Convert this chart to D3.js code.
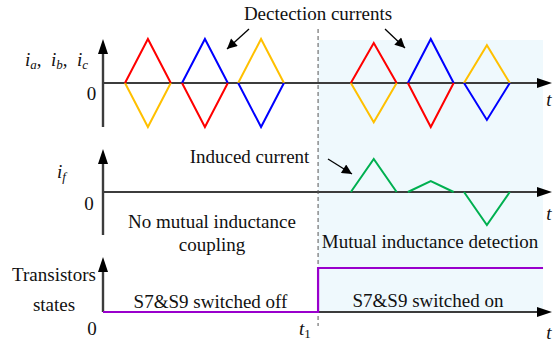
<!DOCTYPE html>
<html><head><meta charset="utf-8">
<script src="https://cdn.jsdelivr.net/npm/d3@7"></script>
<style>
html,body{margin:0;padding:0;background:#fff;}
svg text{font-family:"Liberation Serif","Times New Roman",serif;fill:#111;}
</style></head>
<body><svg id="c" width="553" height="343"></svg>
<script>
// ---- data ----
const pulseStart = [0.49, 1.76, 3.01, 5.52, 6.79, 8.04];
const pulseWidth = 1.02;
const ia = [1.0, -1.0, 0, 0.91, -1.0, 0];      // red
const ib = [0, 1.0, -1.0, 0, 1.0, -0.84];      // blue
const ic = [-1.0, 0, 1.0, -0.89, 0, 0.86];     // yellow
const iF = [0, 0, 0, 0.75, 0.25, -0.75];       // green
const t1 = 4.79;
const tEnd = 10;
const shadeEnd = 9.8;
const stateTimes = [0, t1, t1, shadeEnd];
const stateValues = [0, 0, 1, 1];

const svg = d3.select("#c");
const x = d3.scaleLinear().domain([0, tEnd]).range([103, 552]);
const yTop = d3.scaleLinear().domain([-1, 1]).range([127, 39]);
const yMid = d3.scaleLinear().domain([-1, 1]).range([236, 148]);
const yBot = d3.scaleLinear().domain([0, 1]).range([312, 268]);

const axisCol = "#3c3c3c";
const defs = svg.append("defs");
defs.append("marker").attr("id","ah").attr("viewBox","0 0 10 10")
  .attr("refX",10).attr("refY",5).attr("markerWidth",13).attr("markerHeight",10)
  .attr("markerUnits","userSpaceOnUse").attr("orient","auto")
  .append("path").attr("d","M0,0 L10,5 L0,10 Z").attr("fill","#000");

// shaded region
svg.append("rect").attr("x", x(t1)).attr("y", yTop(1.0)+1)
  .attr("width", x(shadeEnd)-x(t1)).attr("height", yBot(0)-yTop(1.0)-1)
  .attr("fill","#eff9fd");

// axes with arrows
function axes(y0, yBottom, yTip){
  svg.append("line").attr("x1",x(0)).attr("x2",x(tEnd)-12).attr("y1",y0).attr("y2",y0)
    .attr("stroke",axisCol).attr("stroke-width",2);
  svg.append("path").attr("d",`M${x(tEnd)},${y0} L${x(tEnd)-15},${y0-5} L${x(tEnd)-15},${y0+5} Z`).attr("fill","#000");
  svg.append("line").attr("x1",x(0)).attr("x2",x(0)).attr("y1",yBottom).attr("y2",yTip+12)
    .attr("stroke",axisCol).attr("stroke-width",2.4);
  svg.append("path").attr("d",`M${x(0)},${yTip} L${x(0)-5},${yTip+15} L${x(0)+5},${yTip+15} Z`).attr("fill","#000");
}
axes(yTop(0), 127, 39);
axes(yMid(0), 235, 149);
axes(yBot(0), 312, 257);

// dashed t1 line
svg.append("line").attr("x1",x(t1)).attr("x2",x(t1)).attr("y1",29).attr("y2",326)
  .attr("stroke","#555").attr("stroke-width",1).attr("stroke-dasharray","4,3");

// pulses
function pulses(vals, yScale, color){
  vals.forEach((v,i)=>{
    if (v === 0) return;
    const s = pulseStart[i];
    const pts = [[s,0],[s+pulseWidth/2,v],[s+pulseWidth,0]];
    svg.append("path").attr("d", d3.line().x(d=>x(d[0])).y(d=>yScale(d[1]))(pts))
      .attr("fill","none").attr("stroke",color).attr("stroke-width",2).attr("stroke-linejoin","miter");
  });
}
pulses(ic, yTop, "#ffc000");
pulses(ib, yTop, "#0000ff");
pulses(ia, yTop, "#ff0000");
pulses(iF, yMid, "#00b050");

// transistor state
svg.append("path").attr("d", d3.line().x((d,i)=>x(stateTimes[i])).y((d,i)=>yBot(stateValues[i]))(stateTimes))
  .attr("fill","none").attr("stroke","#9900cc").attr("stroke-width",2.2);

// annotation arrows
function arrow(x1,y1,x2,y2){
  svg.append("line").attr("x1",x1).attr("y1",y1).attr("x2",x2).attr("y2",y2)
    .attr("stroke","#000").attr("stroke-width",1.3).attr("marker-end","url(#ah)");
}
arrow(249,29,227,49);
arrow(385,29,405,48);
arrow(328,159,352,174);

// texts
function txt(s, xx, yy, anchor, size, italic){
  return svg.append("text").attr("x",xx).attr("y",yy).attr("text-anchor",anchor||"middle")
    .attr("font-size",size||19).attr("font-style",italic?"italic":null).text(s);
}
txt("Dectection currents", 318, 20);
txt("Induced current", 249.5, 163);
txt("No mutual inductance", 212, 228);
txt("coupling", 212, 251);
txt("Mutual inductance detection", 430, 248);
txt("Transistors", 54, 281);
txt("states", 54, 311);
txt("S7&S9 switched off", 210.5, 308);
txt("S7&S9 switched on", 428, 307);
txt("0", 91.5, 100);
txt("0", 89, 210);
txt("0", 92, 335);
txt("t", 549, 106, "middle", 19, true);
txt("t", 549, 220, "middle", 19, true);
txt("t", 549, 339, "middle", 19, true);

// subscripted labels
function sub(xx, yy, parts){
  const t = svg.append("text").attr("x",xx).attr("y",yy).attr("font-size",19).attr("xml:space","preserve");
  parts.forEach(p=>{
    const ts = t.append("tspan").text(p.s);
    if (p.i) ts.attr("font-style","italic");
    if (p.sub) ts.attr("font-size",13).attr("dy",3);
    if (p.up) ts.attr("dy",-3);
  });
  return t;
}
sub(25, 66, [{s:"i",i:1},{s:"a",i:1,sub:1},{s:",\u2002",up:1},{s:"i",i:1},{s:"b",i:1,sub:1},{s:",\u2002",up:1},{s:"i",i:1},{s:"c",i:1,sub:1}]);
sub(57, 178, [{s:"i",i:1},{s:"f",i:1,sub:1}]);
sub(299, 335, [{s:"t",i:1},{s:"1",sub:1}]);
</script></body></html>
